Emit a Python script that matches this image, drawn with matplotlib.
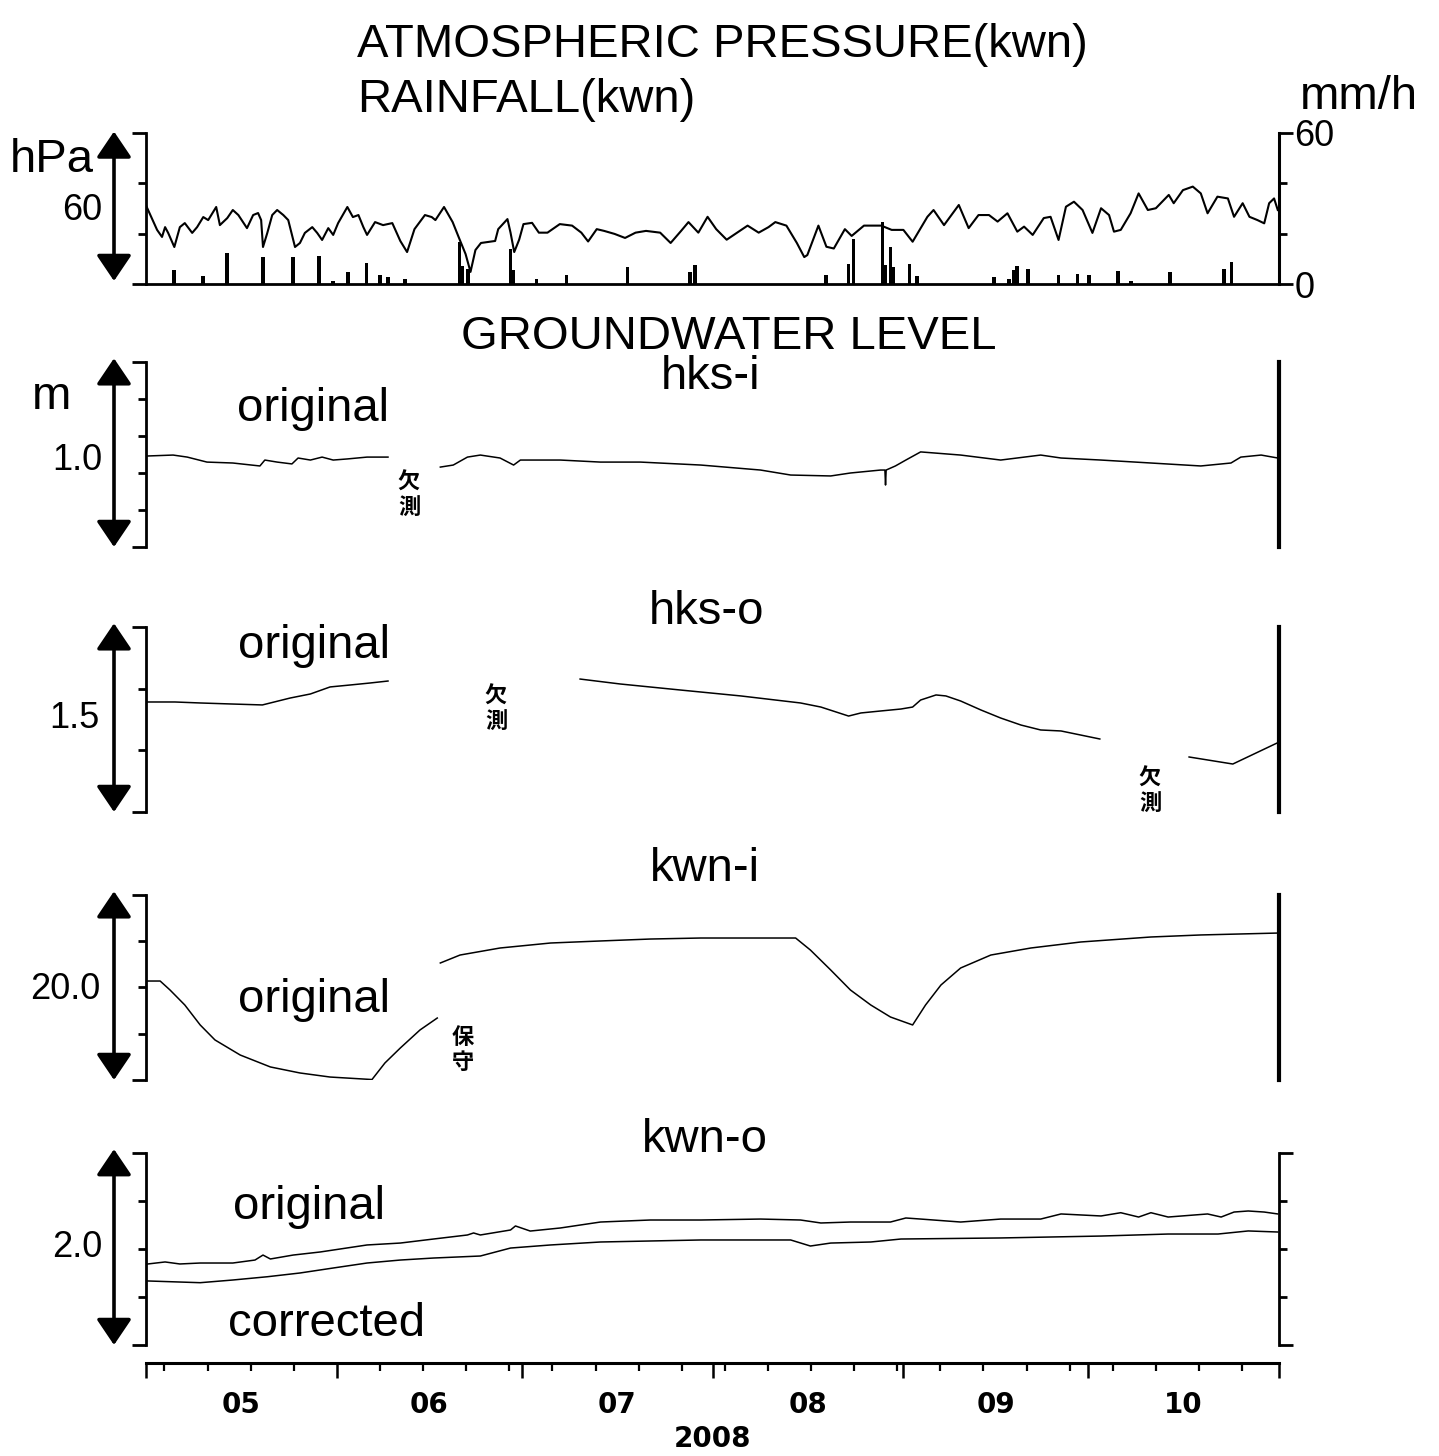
import numpy as np
import matplotlib
matplotlib.use("Agg")
import matplotlib.pyplot as plt
import matplotlib.dates as mdates
from matplotlib.ticker import FixedLocator, NullFormatter

plt.rcParams['font.family'] = ['Liberation Sans', 'DejaVu Sans']

# ---- data : day counted from 2008-05-01 ----
pres_day = [0.1, 1.8, 2.6, 3.1, 3.6, 4.6, 5.5, 6.3, 7.5, 8.3, 9.3, 10.1, 11.4, 12.0, 13.2, 14.1,
            15.0, 16.4, 17.4, 18.2, 18.7, 19.0, 19.7, 20.5, 21.3, 22.3, 23.1, 24.2, 25.0, 25.8,
            27.0, 27.8, 28.6, 29.6, 30.4, 31.2, 32.7, 33.6, 34.5, 35.3, 35.9, 37.2, 38.5, 40.0,
            41.3, 42.4, 43.6, 45.3, 46.4, 47.0, 48.4, 49.8, 50.7, 51.9, 52.7, 53.5, 54.4, 56.7,
            57.2, 58.7, 59.2, 59.8, 60.6, 61.3, 62.7, 63.8, 65.2, 67.2, 69.2, 70.7, 71.8, 73.2,
            74.4, 76.1, 77.8, 79.5, 81.2, 83.5, 85.2, 86.9, 88.1, 89.7, 91.2, 92.6, 94.3, 96.0,
            97.7, 99.5, 101.1, 102.2, 104.0, 105.7, 106.9, 107.4, 109.2, 110.5, 111.7, 113.5,
            114.6, 116.6, 119.4, 121.1, 123.0, 124.5, 126.9, 127.9, 129.6, 132.0, 133.6, 135.2,
            136.9, 138.3, 139.9, 141.5, 142.6, 144.0, 145.8, 146.9, 148.2, 149.4, 150.7, 152.1,
            153.7, 155.1, 156.4, 157.2, 158.3, 159.9, 161.2, 162.7, 164.0, 166.1, 166.9, 168.4,
            170.0, 171.3, 172.4, 174.0, 175.7, 176.7, 178.1, 179.2, 180.5, 181.6, 182.4, 183.2,
            183.8]
pres_hpa = [1010.7, 1001.5, 998.7, 1002.6, 1000.3, 994.7, 1002.6, 1004.2, 1000.3, 1002.6, 1006.6,
            1005.4, 1010.6, 1003.4, 1006.2, 1009.4, 1007.4, 1002.2, 1007.4, 1008.2, 1005.4, 994.7,
            1000.3, 1007.4, 1009.4, 1007.4, 1005.4, 994.7, 996.3, 1000.3, 1002.6, 1000.3, 997.5,
            1002.2, 999.5, 1004.2, 1010.6, 1006.6, 1007.4, 1002.6, 999.5, 1004.6, 1003.4, 1004.2,
            997.1, 992.7, 1001.8, 1007.4, 1006.6, 1005.4, 1010.6, 1004.6, 999.1, 991.9, 984.8,
            993.5, 996.3, 997.1, 1001.8, 1005.8, 1000.4, 992.7, 997.6, 1003.8, 1004.3, 1000.4,
            1000.4, 1003.8, 1003.2, 1000.4, 996.9, 1001.8, 1001.1, 999.9, 998.3, 1000.4, 1001.1,
            1000.4, 996.3, 1001.1, 1004.6, 1000.4, 1006.7, 1001.8, 997.6, 1000.4, 1003.2, 1000.4,
            1002.6, 1004.6, 1003.2, 996.3, 990.7, 991.5, 1003.2, 994.8, 994.1, 1001.8, 999.1,
            1003.2, 1003.2, 1001.5, 1001.5, 996.8, 1006.7, 1009.4, 1003.4, 1011.4, 1002.2, 1007.4,
            1007.4, 1004.8, 1008.1, 1000.8, 1002.8, 999.5, 1006.2, 1006.7, 997.5, 1010.7, 1012.7,
            1009.4, 1000.3, 1010.1, 1007.4, 1000.8, 1001.5, 1008.1, 1016.0, 1009.4, 1010.1, 1015.4,
            1012.1, 1017.3, 1018.7, 1016.0, 1008.1, 1014.7, 1014.0, 1006.7, 1012.1, 1006.7, 1005.4,
            1004.1, 1012.1, 1014.0, 1009.4]

rain_day = [4.55, 9.3, 13.2, 19.0, 23.9, 28.1, 30.4, 32.8, 35.8, 38.0, 39.3, 42.1, 50.9, 51.4,
            52.3, 59.2, 59.7, 63.4, 68.3, 78.2, 88.4, 89.2, 110.4, 114.1, 114.9, 119.6, 120.0,
            120.9, 121.4, 124.0, 125.2, 137.7, 140.1, 140.9, 141.5, 143.2, 148.2, 151.3, 153.1,
            157.8, 160.0, 166.3, 175.1, 176.3]
rain_mm = [5.6, 3.0, 12.3, 10.8, 10.8, 11.0, 1.0, 4.9, 8.2, 3.6, 2.8, 2.0, 16.7, 7.0,
           6.0, 14.0, 5.6, 2.0, 3.5, 6.6, 4.6, 7.4, 3.4, 8.0, 18.0, 24.5, 7.5,
           14.8, 6.8, 7.8, 3.0, 2.6, 2.0, 5.7, 7.3, 6.0, 3.6, 4.0, 3.6,
           5.3, 1.0, 4.6, 6.0, 8.9]

nan = np.nan
hksi_day = [0.3, 4.4, 6.7, 9.9, 14.1, 18.5, 19.3, 21.3, 23.7, 24.7, 26.7, 28.6, 30.4, 32.7, 34.3,
            35.9, 39.3, 43.0, 47.8, 49.9, 52.2, 54.3, 57.5, 59.7, 60.8, 67.3, 73.8, 80.3, 90.1,
            99.8, 104.7, 111.2, 114.4, 119.3, 120.0, 120.1, 120.2, 121.7, 123.4, 125.8, 132.3,
            138.8, 145.3, 148.6, 155.1, 163.2, 171.3, 176.2, 177.8, 181.1, 183.8]
hksi_m = [1.492, 1.497, 1.486, 1.459, 1.454, 1.438, 1.470, 1.459, 1.449, 1.481, 1.470, 1.486,
          1.470, 1.476, 1.481, 1.486, 1.486, nan, 1.432, 1.443, 1.486, 1.497, 1.481, 1.443,
          1.470, 1.470, 1.459, 1.459, 1.443, 1.416, 1.389, 1.384, 1.400, 1.416, 1.416, 1.335,
          1.416, 1.438, 1.470, 1.514, 1.497, 1.470, 1.497, 1.481, 1.470, 1.454, 1.438, 1.454,
          1.486, 1.497, 1.481]

hkso_day = [0.3, 4.7, 8.8, 13.7, 18.9, 23.4, 26.7, 29.9, 33.2, 36.4, 39.3, 55.0, 70.5, 77.0,
            86.8, 96.6, 106.3, 109.6, 114.1, 116.1, 119.3, 122.6, 124.5, 125.8, 128.3, 129.9,
            132.3, 135.6, 138.8, 142.1, 145.3, 148.6, 151.8, 154.9, 162.0, 169.4, 176.5, 183.8]
hkso_m = [1.892, 1.892, 1.884, 1.876, 1.868, 1.924, 1.957, 2.014, 2.030, 2.046, 2.062, nan,
          2.078, 2.038, 1.989, 1.941, 1.884, 1.851, 1.778, 1.803, 1.819, 1.835, 1.851, 1.908,
          1.949, 1.941, 1.900, 1.827, 1.762, 1.705, 1.665, 1.657, 1.624, 1.592, nan, 1.446,
          1.389, 1.562]

kwni_day = [0.3, 2.3, 3.9, 6.3, 8.8, 11.2, 15.3, 20.2, 25.0, 29.9, 36.7, 38.8, 41.3, 44.5, 47.3,
            47.5, 47.8, 51.0, 57.5, 65.7, 73.8, 81.9, 90.1, 105.5, 107.9, 111.2, 114.4, 117.7,
            120.9, 124.5, 126.6, 129.1, 132.3, 137.2, 143.7, 151.8, 163.2, 171.3, 184.0]
kwni_m = [30.70, 30.70, 29.73, 28.11, 25.95, 24.33, 22.70, 21.41, 20.76, 20.32, 20.05, 21.84,
          23.46, 25.41, 26.70, nan, 32.65, 33.51, 34.27, 34.81, 35.03, 35.24, 35.35, 35.35, 34.05,
          31.89, 29.73, 28.11, 26.81, 25.95, 28.11, 30.27, 32.11, 33.51, 34.27, 34.92, 35.46,
          35.68, 35.89]

kwno_day = [0.3, 3.1, 5.5, 8.8, 14.1, 17.7, 19.0, 20.2, 23.9, 28.3, 35.9, 41.3, 46.7, 52.2, 53.2,
            54.3, 59.2, 60.0, 62.4, 67.3, 73.8, 81.9, 90.1, 99.8, 106.3, 109.6, 114.4, 120.9,
            123.4, 125.8, 132.3, 138.8, 145.3, 148.6, 155.1, 158.3, 161.2, 163.2, 166.0, 172.4,
            174.6, 176.7, 179.0, 181.6, 183.8]
kwno_orig = [1.844, 1.865, 1.844, 1.854, 1.854, 1.885, 1.937, 1.896, 1.937, 1.969, 2.042, 2.062,
             2.104, 2.146, 2.167, 2.146, 2.198, 2.240, 2.187, 2.219, 2.281, 2.302, 2.302, 2.312,
             2.302, 2.271, 2.281, 2.281, 2.323, 2.312, 2.281, 2.312, 2.312, 2.365, 2.344, 2.378,
             2.333, 2.378, 2.333, 2.365, 2.333, 2.385, 2.396, 2.385, 2.365]
kwnc_day = [0.3, 8.8, 14.1, 19.7, 25.0, 30.4, 35.9, 41.3, 46.7, 54.3, 59.2, 65.7, 73.8, 90.1,
            104.7, 107.9, 111.2, 117.7, 122.6, 138.8, 155.1, 166.0, 174.1, 179.0, 183.8]
kwno_corr = [1.667, 1.649, 1.677, 1.711, 1.750, 1.802, 1.854, 1.885, 1.906, 1.927, 2.010, 2.042,
             2.073, 2.094, 2.094, 2.031, 2.062, 2.073, 2.104, 2.115, 2.135, 2.156, 2.156, 2.188,
             2.177]

month_labels = ['05', '06', '07', '08', '09', '10']

# ---- layout ----
W, H = 1439, 1456
fig = plt.figure(figsize=(W / 100, H / 100), dpi=100)
t0 = mdates.date2num(np.datetime64('2008-05-01'))
t1 = mdates.date2num(np.datetime64('2008-11-01'))


def tx(days):
    return t0 + np.asarray(days, dtype=float)


L, R = 146 / W, 1279 / W


def panel(top, bottom):
    ax = fig.add_axes([L, 1 - bottom / H, R - L, (bottom - top) / H])
    ax.set_xlim(t0, t1)
    ax.tick_params(axis='x', which='both', bottom=False, top=False, labelbottom=False)
    for s in ['top', 'bottom', 'right']:
        ax.spines[s].set_visible(False)
    ax.spines['left'].set_linewidth(2.0)
    return ax


def bracket(ax, lo, hi, inner):
    ax.set_ylim(lo, hi)
    ax.yaxis.set_major_locator(FixedLocator([lo, hi]))
    ax.yaxis.set_minor_locator(FixedLocator(inner))
    ax.yaxis.set_major_formatter(NullFormatter())
    ax.tick_params(axis='y', which='major', length=10, width=2, direction='out')
    ax.tick_params(axis='y', which='minor', length=6, width=2, direction='out')


def double_arrow(ax, y0=0.0, y1=1.02):
    xa = (114 - 146) / (1279 - 146)
    ax.annotate('', xy=(xa, y1), xytext=(xa, y0), xycoords='axes fraction',
                arrowprops=dict(arrowstyle='<|-|>,head_length=0.4,head_width=0.27', color='k',
                                lw=2.6, mutation_scale=40, shrinkA=0, shrinkB=0),
                annotation_clip=False)


def ftext(x, y, s, **kw):
    kw.setdefault('fontsize', 34)
    kw.setdefault('va', 'baseline')
    fig.text(x / W, 1 - y / H, s, **kw)


cjk = dict(family=['Noto Sans CJK JP', 'DejaVu Sans'], fontweight='bold', fontsize=16,
           ha='center', va='center', linespacing=1.15)

# pressure / rainfall
ax1 = panel(133, 284)
ax1.spines['bottom'].set_visible(True)
ax1.spines['bottom'].set_linewidth(2.0)
bracket(ax1, 980, 1040, [1000, 1020])
ax1.plot(tx(pres_day), pres_hpa, color='k', lw=1.5)
double_arrow(ax1, 0.02, 1.01)

ax1r = ax1.twinx()
ax1r.set_xlim(t0, t1)
for s in ['top', 'bottom', 'left']:
    ax1r.spines[s].set_visible(False)
ax1r.spines['right'].set_linewidth(2.2)
ax1r.set_ylim(0, 60)
ax1r.yaxis.set_major_locator(FixedLocator([0, 60]))
ax1r.yaxis.set_minor_locator(FixedLocator([20, 40]))
ax1r.tick_params(axis='y', which='major', length=10, width=2, direction='out', pad=1, labelsize=26)
ax1r.tick_params(axis='y', which='minor', length=6, width=2, direction='out')
ax1r.bar(tx(rain_day), rain_mm, width=0.6, color='k', linewidth=0)

# hks-i
ax2 = panel(362, 547)
bracket(ax2, 1.0, 2.0, [1.2, 1.4, 1.6, 1.8])
ax2.plot(tx(hksi_day), hksi_m, color='k', lw=1.1)
ax2.spines['right'].set_visible(True)
ax2.spines['right'].set_linewidth(3)
double_arrow(ax2)

# hks-o
ax3 = panel(627, 812)
bracket(ax3, 1.0, 2.5, [1.5, 2.0])
ax3.plot(tx(hkso_day), hkso_m, color='k', lw=1.1)
ax3.spines['right'].set_visible(True)
ax3.spines['right'].set_linewidth(3)
double_arrow(ax3)

# kwn-i
ax4 = panel(895, 1080)
bracket(ax4, 20, 40, [25, 30, 35])
ax4.plot(tx(kwni_day), kwni_m, color='k', lw=1.1)
ax4.spines['right'].set_visible(True)
ax4.spines['right'].set_linewidth(3)
double_arrow(ax4)

# kwn-o
ax5 = panel(1153, 1345)
bracket(ax5, 1.0, 3.0, [1.5, 2.0, 2.5])
ax5.spines['right'].set_visible(True)
ax5.spines['right'].set_linewidth(2.0)
ax5.tick_params(axis='y', which='both', left=True, right=True, labelleft=False, labelright=False)
ax5.plot(tx(kwno_day), kwno_orig, color='k', lw=1.1)
ax5.plot(tx(kwnc_day), kwno_corr, color='k', lw=1.1)
double_arrow(ax5)

# time axis
axx = fig.add_axes([L, 1 - 1363 / H, R - L, 0.0001])
axx.set_xlim(t0, t1)
for s in ['left', 'right', 'top']:
    axx.spines[s].set_visible(False)
axx.spines['bottom'].set_linewidth(2.2)
axx.set_yticks([])
axx.xaxis.set_major_locator(mdates.MonthLocator())
axx.xaxis.set_minor_locator(mdates.WeekdayLocator(byweekday=mdates.SU))
axx.xaxis.set_major_formatter(NullFormatter())
axx.xaxis.set_minor_formatter(NullFormatter())
axx.tick_params(axis='x', which='major', length=11, width=1.8, direction='out')
axx.tick_params(axis='x', which='minor', length=6, width=1.6, direction='out')

month_starts = mdates.date2num(np.arange('2008-05', '2008-12', dtype='datetime64[M]'))
centers = (month_starts[:-1] + month_starts[1:]) / 2
tick_font = dict(family=['Liberation Sans Narrow', 'DejaVu Sans'], fontweight='bold', fontsize=20,
                 ha='center', va='center')
for lab, c in zip(month_labels, centers):
    axx.annotate(lab, xy=(c, 0), xycoords=('data', 'axes fraction'), xytext=(0, -30),
                 textcoords='offset points', **tick_font)
axx.annotate('2008', xy=(month_starts[3], 0), xycoords=('data', 'axes fraction'),
             xytext=(0, -55), textcoords='offset points', **tick_font)

# titles and labels
ftext(357, 57, 'ATMOSPHERIC PRESSURE(kwn)')
ftext(357, 112, 'RAINFALL(kwn)')
ftext(1300, 109, 'mm/h')
ftext(10, 172, 'hPa')
ftext(102, 220, '60', fontsize=26, ha='right')

ftext(729, 349, 'GROUNDWATER LEVEL', ha='center')
ftext(711, 389, 'hks-i', ha='center')
ftext(32, 409, 'm')
ftext(237, 421, 'original')
ftext(102, 470, '1.0', fontsize=26, ha='right')
fig.text(409 / W, 1 - 495 / H, '欠\n測', **cjk)

ftext(707, 624, 'hks-o', ha='center')
ftext(238, 658, 'original')
ftext(100, 728, '1.5', fontsize=26, ha='right')
fig.text(496 / W, 1 - 709 / H, '欠\n測', **cjk)
fig.text(1150 / W, 1 - 791 / H, '欠\n測', **cjk)

ftext(705, 881, 'kwn-i', ha='center')
ftext(238, 1012, 'original')
ftext(100, 999, '20.0', fontsize=26, ha='right')
fig.text(463 / W, 1 - 1050 / H, '保\n守', **cjk)

ftext(705, 1152, 'kwn-o', ha='center')
ftext(233, 1219, 'original')
ftext(228, 1336, 'corrected')
ftext(102, 1257, '2.0', fontsize=26, ha='right')

plt.savefig('out.png', dpi=100)
